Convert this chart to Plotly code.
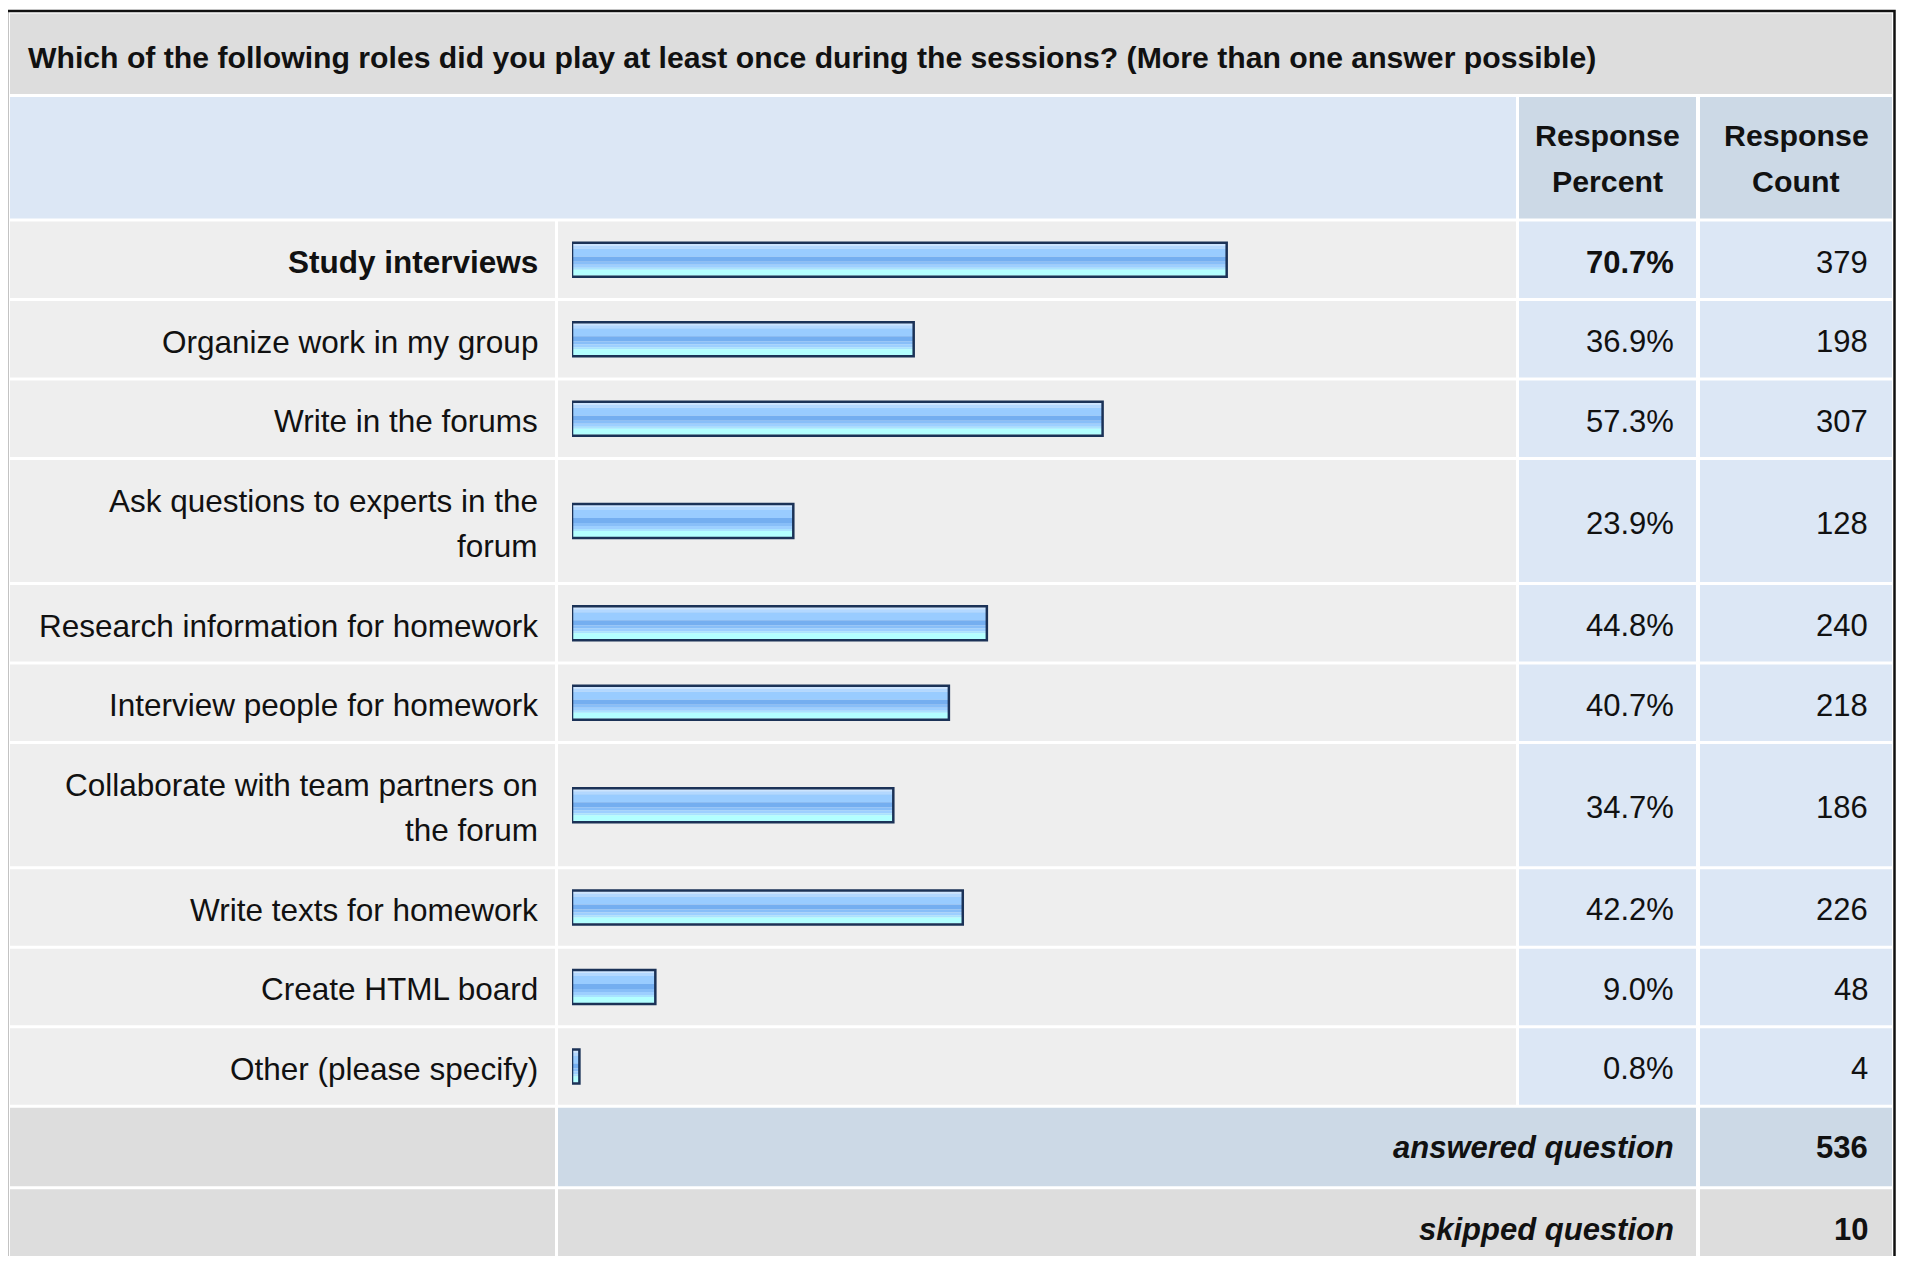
import plotly.graph_objs as go

# survey question + answers
title = "Which of the following roles did you play at least once during the sessions? (More than one answer possible)"
roles = ["Study interviews", "Organize work in my group", "Write in the forums",
         "Ask questions to experts in the<br>forum", "Research information for homework",
         "Interview people for homework", "Collaborate with team partners on<br>the forum",
         "Write texts for homework", "Create HTML board", "Other (please specify)"]
percents = [70.7, 36.9, 57.3, 23.9, 44.8, 40.7, 34.7, 42.2, 9.0, 0.8]
counts = [379, 198, 307, 128, 240, 218, 186, 226, 48, 4]
answered = 536
skipped = 10

# page body has an 8px margin, so work in screen pixels and shift by it
OFF = 8
W, H = 1905 - 2 * OFF, 1264 - 2 * OFF
FONT = "Liberation Sans, Arial, sans-serif"

# table geometry (screen pixels)
col_label = (10, 555)
col_bar = (558, 1516)
col_pct = (1519, 1696)
col_cnt = (1700, 1892)
gap = 1.5
single_h, line_h = 79.5, 45.6

shapes = []
annotations = []


def xp(x):
    return (x - OFF) / W


def cell(x0, x1, y0, y1, color):
    shapes.append(dict(type="rect", xref="paper", yref="y", layer="below",
                       x0=xp(x0), x1=xp(x1), y0=y0 + gap, y1=y1 - gap,
                       fillcolor=color, line=dict(width=0)))


def text(s, x, y, anchor="right", size=31, color="#111111"):
    annotations.append(dict(text=s, x=xp(x), y=y, xref="paper", yref="y",
                            xanchor=anchor, yanchor="middle", showarrow=False,
                            font=dict(family=FONT, size=size, color=color)))


# title band
cell(col_label[0], col_cnt[1], 12, 95.5, "#dddddd")
text("<b>" + title + "</b>", 26, 57, anchor="left", size=30.2)

# header
cell(col_label[0], col_bar[1], 95.5, 220, "#dce7f5")
cell(col_pct[0], col_pct[1], 95.5, 220, "#ccd9e6")
cell(col_cnt[0], col_cnt[1], 95.5, 220, "#ccd9e6")
for i, (a, b) in enumerate([("Response", "Response"), ("Percent", "Count")]):
    yy = 135.5 + i * 46
    text("<b>" + a + "</b>", (col_pct[0] + col_pct[1]) / 2, yy, anchor="center", size=30.3)
    text("<b>" + b + "</b>", (col_cnt[0] + col_cnt[1]) / 2, yy, anchor="center", size=30.3)

# answer rows
top_idx = percents.index(max(percents))
centers = []
y = 220
for i, role in enumerate(roles):
    lines = role.split("<br>")
    h = single_h + line_h * (len(lines) - 1)
    cell(col_label[0], col_label[1], y, y + h, "#eeeeee")
    cell(col_bar[0], col_bar[1], y, y + h, "#eeeeee")
    cell(col_pct[0], col_pct[1], y, y + h, "#dce7f5")
    cell(col_cnt[0], col_cnt[1], y, y + h, "#dce7f5")
    c = y + h / 2
    centers.append(c)
    bold = i == top_idx
    for j, ln in enumerate(lines):
        ly = c + 2.5 + (j - (len(lines) - 1) / 2) * line_h
        text("<b>%s</b>" % ln if bold else ln, 539.5, ly, size=31.5)
    pct = "%.1f%%" % percents[i]
    text("<b>%s</b>" % pct if bold else pct, 1675.5, c + 2.5)
    text(str(counts[i]), 1870, c + 2.5)
    y += h

# totals
ya = y + 81.6
cell(col_label[0], col_label[1], y, ya, "#dddddd")
cell(col_bar[0], col_pct[1], y, ya, "#ccd9e6")
cell(col_cnt[0], col_cnt[1], y, ya, "#ccd9e6")
text("<b><i>answered question</i></b>", 1675.5, (y + ya) / 2)
text("<b>%d</b>" % answered, 1869.5, (y + ya) / 2)
cell(col_label[0], col_label[1], ya, H + OFF + 10, "#dddddd")
cell(col_bar[0], col_pct[1], ya, H + OFF + 10, "#dddddd")
cell(col_cnt[0], col_cnt[1], ya, H + OFF + 10, "#dddddd")
text("<b><i>skipped question</i></b>", 1675.5, ya + 42)
text("<b>%d</b>" % skipped, 1869.5, ya + 42)

# outer frame
shapes.append(dict(type="rect", xref="paper", yref="y", layer="above",
                   x0=xp(7), x1=xp(1894.5), y0=11, y1=H + OFF + 20,
                   line=dict(color="#111111", width=2.5), fillcolor="rgba(0,0,0,0)"))

# bars: glossy stripes then dark outline
stripes = [(0, 2, "#cde5ff"), (2, 3, "#b3d8ff"), (5, 8, "#99ccff"), (13, 5, "#74aef0"),
           (18, 3, "#88bef8"), (21, 3, "#9dcfff"), (24, 2, "#a9e3ff"), (26, 6, "#b3ffff")]
data = []
for off, h, col in stripes:
    data.append(go.Bar(x=percents, y=centers, orientation="h", width=h, offset=-16 + off,
                       marker=dict(color=col, line=dict(width=0)), hoverinfo="skip"))
data.append(go.Bar(x=percents, y=centers, orientation="h", width=34, offset=-17,
                   marker=dict(color="rgba(0,0,0,0)", line=dict(color="#1b3257", width=2.5)),
                   hovertemplate="%{x}%<extra></extra>"))

layout = go.Layout(width=W, height=H, margin=dict(l=0, r=0, t=0, b=0),
                   paper_bgcolor="white", plot_bgcolor="rgba(0,0,0,0)",
                   barmode="overlay", showlegend=False,
                   xaxis=dict(range=[0, 100], domain=[xp(572), xp(1498)], visible=False, fixedrange=True),
                   yaxis=dict(range=[H + OFF, OFF], domain=[0, 1], visible=False, fixedrange=True),
                   shapes=shapes, annotations=annotations)
fig = go.Figure(data=data, layout=layout)
fig.write_html("out.html")
